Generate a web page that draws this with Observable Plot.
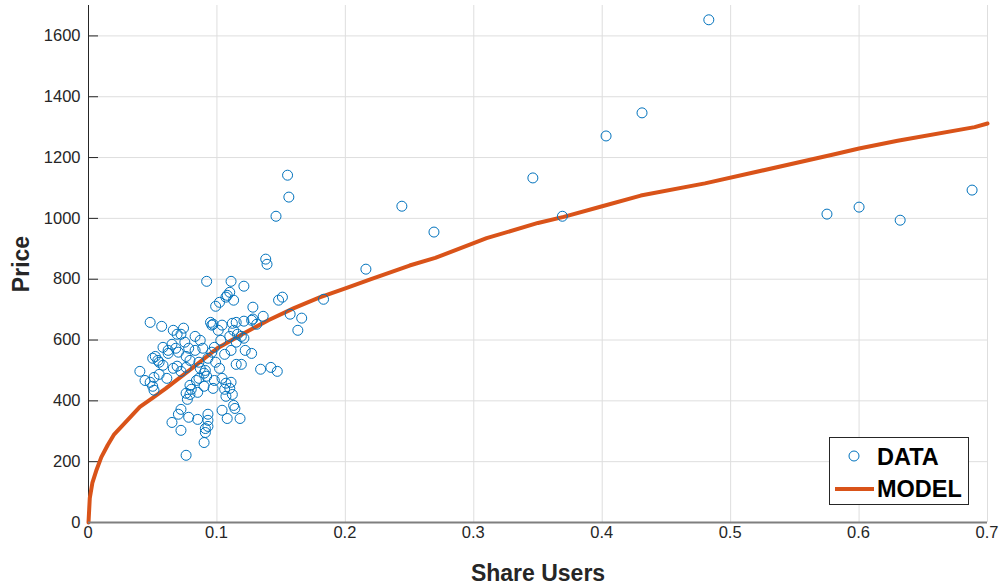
<!DOCTYPE html>
<html>
<head>
<meta charset="utf-8">
<script src="https://cdn.jsdelivr.net/npm/d3@7"></script>
<script src="https://cdn.jsdelivr.net/npm/@observablehq/plot@0.6"></script>
<style>
  body { margin: 0; background: #fff; }
  #wrap { position: relative; width: 1000px; height: 588px; font-family: "Liberation Sans", Arial, sans-serif; }
  #wrap svg g[aria-label="x-axis tick label"] text,
  #wrap svg g[aria-label="y-axis tick label"] text { font-size: 16.5px; }
  #wrap svg g[aria-label="x-axis tick label"] { transform: translate(0px, 4px); }
  #wrap svg g[aria-label="x-axis label"] text,
  #wrap svg g[aria-label="y-axis label"] text { font-weight: bold; font-size: 23px; fill: #262626; }
  #legend { position: absolute; left: 829px; top: 437px; width: 140px; height: 68px; border: 1px solid #262626; background: #fff; box-sizing: border-box; }
  #legend .lbl { position: absolute; left: 47px; font-weight: bold; font-size: 23.5px; color: #000; line-height: 1; }
</style>
</head>
<body>
<div id="wrap"></div>
<script>
// Scatter data (Share Users vs Price)
const dataX = [0.155,0.156,0.146,0.138,0.139,0.092,0.111,0.121,0.110,0.107,0.113,0.102,0.099,0.151,0.148,0.128,0.136,0.157,0.166,0.163,
  0.127,0.131,0.121,0.115,0.112,0.113,0.116,0.110,0.119,0.104,0.101,0.097,0.095,0.048,0.057,0.066,0.069,0.072,0.074,0.083,
  0.087,0.103,0.115,0.065,0.075,0.062,0.070,0.078,0.089,0.098,0.111,0.127,0.096,0.093,0.076,0.052,0.050,0.054,0.055,0.079,
  0.086,0.099,0.106,0.115,0.119,0.076,0.069,0.066,0.072,0.040,0.051,0.055,0.044,0.048,0.050,0.051,0.061,0.090,0.091,0.102,
  0.092,0.084,0.086,0.098,0.104,0.107,0.111,0.079,0.080,0.090,0.097,0.079,0.076,0.085,0.106,0.110,0.112,0.107,0.077,0.134,
  0.142,0.147,0.114,0.104,0.072,0.070,0.078,0.085,0.093,0.093,0.108,0.118,0.065,0.091,0.093,0.072,0.090,0.076,0.183,0.216,
  0.244,0.269,0.346,0.369,0.403,0.431,0.483,0.575,0.600,0.632,0.688,0.091,0.062,0.058,0.113,0.121,0.128,0.096,0.108,0.083,
  0.068,0.058,0.087,0.122];
const dataY = [1142,1070,1007,866,849,793,793,777,757,741,731,724,711,741,731,708,678,685,672,632,
  665,652,662,658,655,632,619,612,612,649,632,652,658,658,645,632,619,619,639,612,
  599,599,593,586,593,566,560,573,573,576,566,556,560,540,546,546,540,533,527,533,
  527,527,553,520,520,510,514,507,497,497,477,487,467,461,448,435,474,491,500,507,
  481,467,474,467,474,458,461,451,438,448,441,421,425,428,438,441,421,415,405,504,
  510,497,375,369,372,356,346,339,336,356,342,342,329,309,316,303,263,221,734,833,
  1040,955,1133,1007,1271,1347,1653,1014,1037,994,1093,296,556,576,385,606,669,649,747,566,
  573,517,507,566];

// Fitted model curve
const modelX = [0,0.001,0.003,0.006,0.01,0.015,0.02,0.03,0.04,0.05,0.06,0.08,0.1,0.12,0.14,0.16,0.18,0.2,0.22,0.25,0.27,0.31,0.35,0.37,0.4,0.43,0.48,0.58,0.6,0.63,0.69,0.7];
const modelY = [0,80,130,170,215,255,290,335,380,410,440,505,572,620,665,705,740,770,800,845,870,935,985,1005,1040,1075,1115,1210,1230,1255,1300,1312];

const xTicks = [0,0.1,0.2,0.3,0.4,0.5,0.6,0.7];
const xTickLabels = ["0","0.1","0.2","0.3","0.4","0.5","0.6","0.7"];
const yTicks = [0,200,400,600,800,1000,1200,1400,1600];
const yTickLabels = ["0","200","400","600","800","1000","1200","1400","1600"];

const points = dataX.map((x, i) => ({x, y: dataY[i]}));
const model = modelX.map((x, i) => ({x, y: modelY[i]}));

const chart = Plot.plot({
  width: 1000,
  height: 588,
  marginLeft: 88,
  marginRight: 13,
  marginTop: 5,
  marginBottom: 66,
  style: {fontFamily: "'Liberation Sans', Arial, sans-serif", fontSize: "16.5px", color: "#262626", background: "#fff"},
  x: {domain: [0, 0.7]},
  y: {domain: [0, 1700]},
  marks: [
    Plot.gridX(xTicks, {stroke: "#dedede", strokeOpacity: 1}),
    Plot.gridY(yTicks, {stroke: "#dedede", strokeOpacity: 1}),
    Plot.ruleX([0.7], {stroke: "#dedede"}),
    Plot.ruleY(yTicks, {stroke: "#262626", insetRight: 889}),
    Plot.ruleX([0], {stroke: "#262626", strokeWidth: 1}),
    Plot.line(model, {x: "x", y: "y", stroke: "#D95319", strokeWidth: 4}),
    Plot.dot(points, {x: "x", y: "y", r: 5, stroke: "#0072BD", strokeWidth: 1, fill: "none"}),
    Plot.ruleY([0], {stroke: "#7f7f7f", strokeWidth: 2}),
    Plot.axisX(xTicks, {tickSize: 0, tickPadding: 8, tickFormat: d => xTickLabels[xTicks.indexOf(d)], label: "Share Users", labelAnchor: "center", labelArrow: "none", labelOffset: 58, fill: "#262626"}),
    Plot.axisY(yTicks, {tickSize: 0, tickPadding: 8, tickFormat: d => yTickLabels[yTicks.indexOf(d)], label: "Price", labelAnchor: "center", labelArrow: "none", labelOffset: 76, fill: "#262626"})
  ]
});
document.getElementById("wrap").appendChild(chart);

// Legend overlay
const legend = document.createElement("div");
legend.id = "legend";
legend.innerHTML = `
  <svg width="140" height="68" style="position:absolute;left:0;top:0">
    <circle cx="24" cy="18" r="5" fill="none" stroke="#0072BD" stroke-width="1"></circle>
    <line x1="5" x2="44" y1="51" y2="51" stroke="#D95319" stroke-width="4"></line>
  </svg>
  <div class="lbl" style="top:8px">DATA</div>
  <div class="lbl" style="top:40px">MODEL</div>`;
document.getElementById("wrap").appendChild(legend);
</script>
</body>
</html>
